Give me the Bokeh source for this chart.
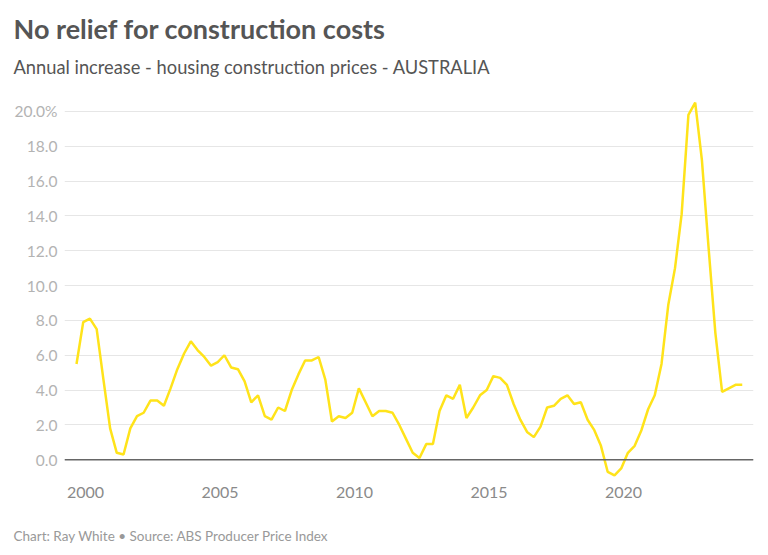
import pandas as pd
from bokeh.plotting import figure
from bokeh.models import Span, FixedTicker, Range1d, Title
from bokeh.embed import file_html
from bokeh.resources import INLINE

# Quarterly observations, Sep 1999 .. Jun 2024
dates = pd.date_range("1999-09-01", periods=100, freq="3MS")
values = [
    5.5, 7.9, 8.1, 7.5, 4.6, 1.8, 0.4, 0.3, 1.8, 2.5,
    2.7, 3.4, 3.4, 3.1, 4.1, 5.2, 6.1, 6.8, 6.3, 5.9,
    5.4, 5.6, 6.0, 5.3, 5.2, 4.5, 3.3, 3.7, 2.5, 2.3,
    3.0, 2.8, 4.0, 4.9, 5.7, 5.7, 5.9, 4.6, 2.2, 2.5,
    2.4, 2.7, 4.1, 3.3, 2.5, 2.8, 2.8, 2.7, 2.0, 1.2,
    0.4, 0.1, 0.9, 0.9, 2.8, 3.7, 3.5, 4.3, 2.4, 3.0,
    3.7, 4.0, 4.8, 4.7, 4.3, 3.2, 2.3, 1.6, 1.3, 1.9,
    3.0, 3.1, 3.5, 3.7, 3.2, 3.3, 2.3, 1.7, 0.8, -0.7,
    -0.9, -0.5, 0.4, 0.8, 1.7, 2.9, 3.7, 5.5, 8.9, 11.0,
    14.1, 19.8, 20.5, 17.2, 12.2, 7.3, 3.9, 4.1, 4.3, 4.3,
]
x_ticks = [2000, 2005, 2010, 2015, 2020]
x_tick_labels = ["2000", "2005", "2010", "2015", "2020"]
y_ticks = [0, 2, 4, 6, 8, 10, 12, 14, 16, 18, 20]
y_tick_labels = ["0.0", "2.0", "4.0", "6.0", "8.0", "10.0", "12.0", "14.0", "16.0", "18.0", "20.0%"]

title_text = "No relief for construction costs"
subtitle_text = "Annual increase - housing construction prices - AUSTRALIA"
footer_text = "Chart: Ray White \u2022 Source: ABS Producer Price Index"

x = [d.year + (d.dayofyear - 1) / (366 if d.is_leap_year else 365) for d in dates]

p = figure(width=768, height=555, output_backend="svg", toolbar_location=None,
           title=None,
           x_range=Range1d(1999.219, 2024.833), y_range=Range1d(-1.19, 20.91),
           min_border_left=64, min_border_right=15, min_border_top=0, min_border_bottom=0)
p.outline_line_color = None
p.background_fill_color = "white"
p.border_fill_color = "white"

# grid
p.xgrid.visible = False
p.ygrid.ticker = FixedTicker(ticks=y_ticks)
p.ygrid.grid_line_color = "#e6e6e6"
p.ygrid.grid_line_width = 1

# y axis
p.yaxis.ticker = FixedTicker(ticks=y_ticks)
p.yaxis.major_label_overrides = {t: l for t, l in zip(y_ticks, y_tick_labels)}
p.yaxis.axis_line_color = None
p.yaxis.major_tick_line_color = None
p.yaxis.minor_tick_line_color = None
p.yaxis.major_tick_out = 0
p.yaxis.major_tick_in = 0
p.yaxis.minor_tick_out = 0
p.yaxis.major_label_standoff = 7
p.yaxis.major_label_text_font = "Lato"
p.yaxis.major_label_text_font_size = "15.5px"
p.yaxis.major_label_text_color = "#b3b3b3"

# x axis
p.xaxis.ticker = FixedTicker(ticks=x_ticks)
p.xaxis.major_label_overrides = {t: l for t, l in zip(x_ticks, x_tick_labels)}
p.xaxis.axis_line_color = None
p.xaxis.major_tick_line_color = None
p.xaxis.minor_tick_line_color = None
p.xaxis.major_tick_out = 0
p.xaxis.major_tick_in = 0
p.xaxis.minor_tick_out = 0
p.xaxis.major_label_standoff = 6
p.xaxis.major_label_text_font = "Lato"
p.xaxis.major_label_text_font_size = "16px"
p.xaxis.major_label_text_color = "#8a8a8a"

p.line(x, values, line_color="#ffe31a", line_width=2.5)

p.add_layout(Span(location=0, dimension="width", line_color="#666666", line_width=1.5))

# titles (first added sits closest to the frame)
p.add_layout(Title(text=subtitle_text, align="left", offset=-51, standoff=35.4,
                   text_font="Lato", text_font_size="18.3px", text_font_style="normal",
                   text_color="#555555"), "above")
p.add_layout(Title(text=title_text, align="left", offset=-51, standoff=-16.4,
                   text_font="Lato", text_font_size="27px", text_font_style="bold",
                   text_color="#555555"), "above")
p.add_layout(Title(text="\u00a0", align="left", offset=-51, standoff=8.5,
                   text_font="Lato", text_font_size="5px",
                   text_color="#ffffff"), "above")
# footer below the x axis
p.add_layout(Title(text="\u00a0", align="left", offset=-51, standoff=4.6,
                   text_font="Lato", text_font_size="5px",
                   text_color="#ffffff"), "below")
p.add_layout(Title(text=footer_text, align="left", offset=-51, standoff=24,
                   text_font="Lato", text_font_size="13.5px", text_font_style="normal",
                   text_color="#999999"), "below")

open("out.html", "w").write(file_html(p, INLINE))
